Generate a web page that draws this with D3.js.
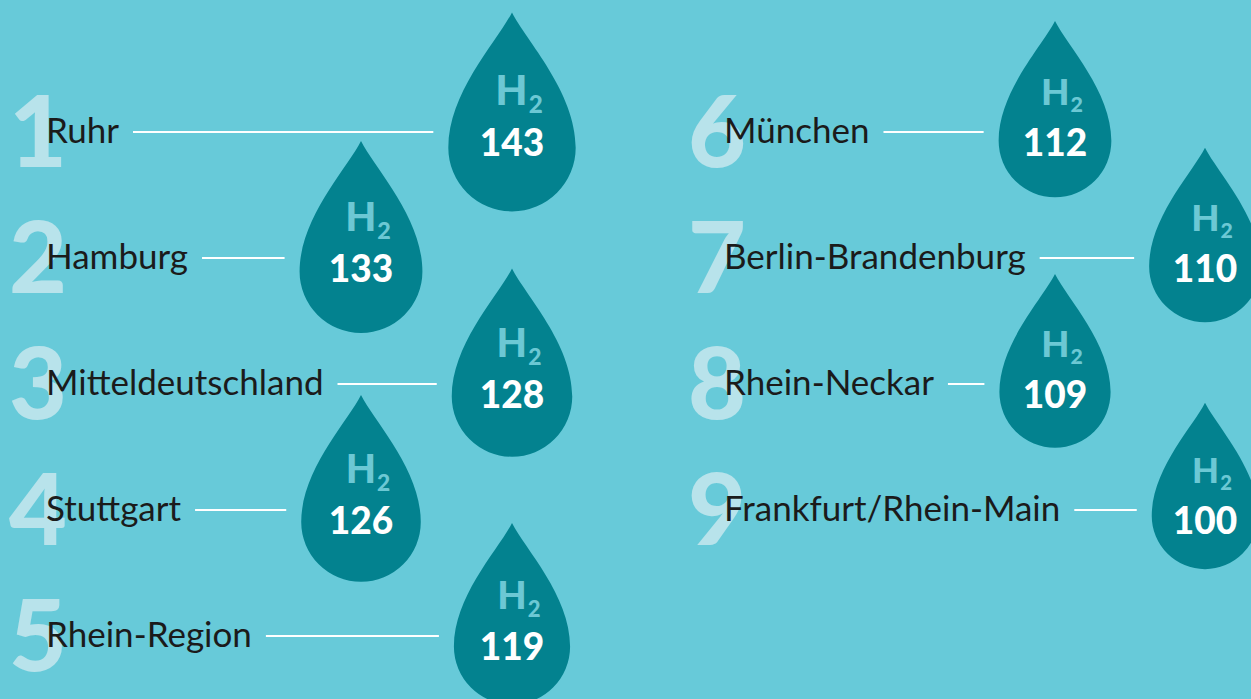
<!DOCTYPE html>
<html>
<head>
<meta charset="utf-8">
<script src="https://cdn.jsdelivr.net/npm/d3@7"></script>
<style>
  body { margin: 0; background: #67cad9; }
  svg { display: block; }
  .label { font-family: Lato, sans-serif; font-size: 35px; fill: #1b1b1b; }
  .rank { font-family: Lato, sans-serif; font-weight: 900; font-size: 100px; fill: #b8e3eb; }
  .value { font-family: Lato, sans-serif; font-weight: 900; font-size: 37px; fill: #fff; }
  .h2 { font-family: Lato, sans-serif; font-weight: 900; fill: #6cc8d4; }
</style>
</head>
<body>
<div id="graphic"></div>
<script>
// hydrogen regions, ranked
var ranks = [1, 2, 3, 4, 5, 6, 7, 8, 9];
var regions = ["Ruhr", "Hamburg", "Mitteldeutschland", "Stuttgart", "Rhein-Region",
  "München", "Berlin-Brandenburg", "Rhein-Neckar", "Frankfurt/Rhein-Main"];
var values = [143, 133, 128, 126, 119, 112, 110, 109, 100];

var width = 1251, height = 699;
var perColumn = 5;

var graphic_data = ranks.map(function(r, i) {
  return { rank: r, name: regions[i], value: values[i],
    col: Math.floor(i / perColumn), row: i % perColumn };
});

var svg = d3.select('#graphic').append('svg')
  .attr('width', width)
  .attr('height', height);

svg.append('rect').attr('width', width).attr('height', height).attr('fill', '#67cad9');

// row positions
var y = d3.scalePoint()
  .domain(d3.range(perColumn))
  .range([130, 634]);

// column positions: rank number, label start, drops alternating outer/inner
var colX = d3.scaleOrdinal().domain([0, 1]).range([38, 717]);
var labelX = d3.scaleOrdinal().domain([0, 1]).range([46, 724]);
var dropX = [[512, 361], [1055, 1205]];

// drop height scales with value (area-ish)
var size = d3.scaleSqrt()
  .domain([0, d3.max(values)])
  .range([0, 199]);

// teardrop: tip at (0,0), height h, bulb radius 0.32h
function dropPath(h) {
  var r = 0.32 * h, cy = h - r;
  var p = d3.path();
  p.moveTo(0, 0);
  p.bezierCurveTo(0.07 * h, 0.14 * h, r, 0.4 * h, r, cy);
  p.arc(0, cy, r, 0, Math.PI, false);
  p.bezierCurveTo(-r, 0.4 * h, -0.07 * h, 0.14 * h, 0, 0);
  p.closePath();
  return p.toString();
}

var items = svg.selectAll('g.item')
  .data(graphic_data)
  .join('g')
  .attr('class', 'item');

items.append('text')
  .attr('class', 'rank')
  .attr('x', d => colX(d.col))
  .attr('y', d => y(d.row) + 37)
  .attr('text-anchor', 'middle')
  .text(d => d.rank);

items.append('text')
  .attr('class', 'label')
  .attr('x', d => labelX(d.col))
  .attr('y', d => y(d.row) + 13)
  .text(d => d.name);

// drops
items.each(function(d) {
  var g = d3.select(this);
  var h = size(d.value);
  var r = 0.32 * h;
  var cx = dropX[d.col][d.row % 2];
  var cy = y(d.row) + 0.3 * h - 42;   // bulb centre
  var tipY = cy + r - h;

  var textEnd = labelX(d.col) + g.select('text.label').node().getComputedTextLength();
  g.append('line')
    .attr('x1', textEnd + 14)
    .attr('x2', cx - r - 15)
    .attr('y1', y(d.row) + 2)
    .attr('y2', y(d.row) + 2)
    .attr('stroke', '#fff')
    .attr('stroke-width', 2);

  g.append('path')
    .attr('transform', 'translate(' + cx + ',' + tipY + ')')
    .attr('d', dropPath(h))
    .attr('fill', '#03828f');

  var fs = 0.21 * h;
  var h2 = g.append('text')
    .attr('class', 'h2')
    .attr('x', cx + 7)
    .attr('y', y(d.row) - 25)
    .attr('text-anchor', 'middle')
    .style('font-size', fs + 'px');
  h2.append('tspan').text('H');
  h2.append('tspan').attr('dx', 1).attr('dy', fs * 0.2).style('font-size', (fs * 0.58) + 'px').text('2');

  g.append('text')
    .attr('class', 'value')
    .attr('x', cx)
    .attr('y', y(d.row) + 26)
    .attr('text-anchor', 'middle')
    .text(d.value);
});
</script>
</body>
</html>
